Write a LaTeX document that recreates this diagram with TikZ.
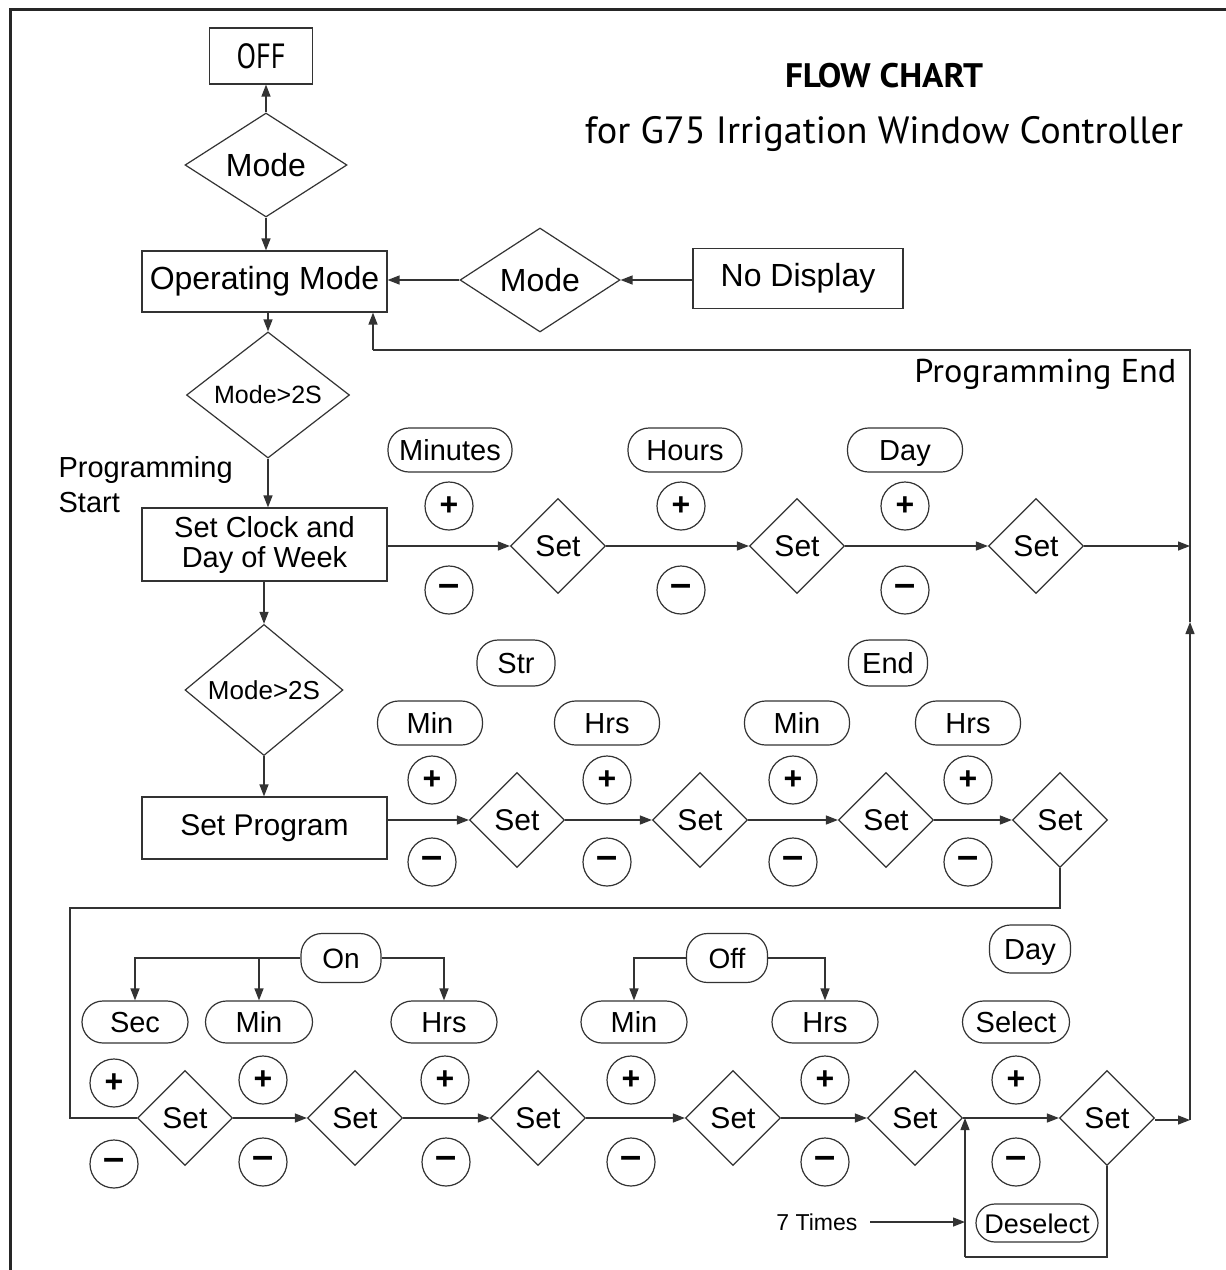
\documentclass[tikz,border=0pt]{standalone}
\usepackage{fontspec}
\setmainfont{Liberation Sans}
\newfontfamily\dinfont{PT Sans}
\usetikzlibrary{shapes.geometric,arrows.meta}
\newcommand{\dinbox}[2]{\resizebox{#1}{\height}{\dinfont #2}}
\newcommand{\fs}[1]{\fontsize{#1}{#1}\selectfont}
\begin{document}
\begin{tikzpicture}[x=1pt,y=-1pt,
  line width=1.2pt, draw=black!80,
  box/.style={draw, rectangle, inner sep=0pt},
  dia/.style={draw, diamond, aspect=1, inner sep=0pt, minimum width=95pt, minimum height=95pt, font=\fs{30}},
  pill/.style={draw, rectangle, rounded corners=21pt, minimum height=44pt, inner sep=0pt, font=\fs{29}, text height=21pt, text depth=0pt},
  plus/.style={draw, circle, minimum size=48pt, inner sep=0pt, font=\bfseries\fs{32}},
  minus/.style={draw, circle, minimum size=48pt, inner sep=0pt, font=\bfseries\fs{38}},
  conn/.style={line width=1.3pt, draw=black!80},
  arr/.style={conn, -{Triangle[length=12pt,width=9pt]}},
]
\clip (0,0) rectangle (1226,1270);
\fill[white] (0,0) rectangle (1226,1270);
\draw[line width=3pt, draw=black!85] (10,1280) -- (10,9) -- (1240,9);

% titles
\node[anchor=base, inner sep=0] (title) at (884,87) {\resizebox{198pt}{\height}{\dinfont\bfseries\fs{34}FLOW CHART}};
\node[anchor=base, inner sep=0] (sub) at (884,143) {\dinbox{598pt}{\fs{38}for G75 Irrigation Window Controller}};
\node[anchor=base east, inner sep=0] (pe) at (1177,382) {\dinbox{262pt}{\fs{33}Programming End}};

% top column
\node[box, minimum width=103pt, minimum height=56pt] (off) at (261,56) {\dinbox{49pt}{\fs{35}OFF}};
\node[dia, minimum width=162pt, minimum height=104pt, font=\fs{32}] (mode1) at (266,165) {Mode};
\node[box, minimum width=245pt, minimum height=61pt, font=\fs{32}] (opm) at (264.5,281.5) {Operating Mode};
\node[dia, minimum width=160pt, minimum height=104pt, font=\fs{32}] (mode2) at (540,280) {Mode};
\node[box, minimum width=210pt, minimum height=60pt, font=\fs{32}] (nod) at (798,278.5) {No Display};
\node[dia, minimum width=163pt, minimum height=104pt, font=\fs{25}] (m2sa) at (268,395) {Mode>2S};
\node[anchor=west, align=left, inner sep=0pt, font=\fontsize{29}{35}\selectfont] (ps) at (58,485) {Programming\\Start};
\node[box, minimum width=245pt, minimum height=73pt, align=center, font=\fontsize{29}{30}\selectfont] (sc) at (264.5,544.5) {Set Clock and\\Day of Week};
\node[dia, minimum width=158pt, minimum height=107pt, font=\fs{26}] (m2sb) at (264,690) {Mode>2S};
\node[box, minimum width=245pt, minimum height=62pt, font=\fs{30}] (sp) at (264.5,828) {Set Program};

% row 1
\node[dia] (s1) at (558,546) {Set};
\node[dia] (s2) at (797,546) {Set};
\node[dia] (s3) at (1036,546) {Set};
\node[pill, minimum width=124pt] (pminutes) at (450,450) {Minutes};
\node[pill, minimum width=114pt] (phours) at (685,450) {Hours};
\node[pill, minimum width=115pt] (pday) at (905,450) {Day};
\node[plus] (a1) at (449,506) {+};
\node[plus] (a2) at (681,506) {+};
\node[plus] (a3) at (905,506) {+};
\node[minus] (b1) at (449,590) {\raisebox{-5pt}{–}};
\node[minus] (b2) at (681,590) {\raisebox{-5pt}{–}};
\node[minus] (b3) at (905,590) {\raisebox{-5pt}{–}};

% row 2
\node[dia] (s4) at (517,820) {Set};
\node[dia] (s5) at (700,820) {Set};
\node[dia] (s6) at (886,820) {Set};
\node[dia] (s7) at (1060,820) {Set};
\node[pill, minimum width=78pt, minimum height=46pt] (pstr) at (516,663) {Str};
\node[pill, minimum width=79pt, minimum height=46pt] (pend) at (888,663) {End};
\node[pill, minimum width=105pt] (pmina) at (430,723) {Min};
\node[pill, minimum width=105pt] (phrsa) at (607,723) {Hrs};
\node[pill, minimum width=105pt] (pminb) at (797,723) {Min};
\node[pill, minimum width=105pt] (phrsb) at (968,723) {Hrs};
\node[plus] (a4) at (432,780) {+};
\node[plus] (a5) at (607,780) {+};
\node[plus] (a6) at (793,780) {+};
\node[plus] (a7) at (968,780) {+};
\node[minus] (b4) at (432,862) {\raisebox{-5pt}{–}};
\node[minus] (b5) at (607,862) {\raisebox{-5pt}{–}};
\node[minus] (b6) at (793,862) {\raisebox{-5pt}{–}};
\node[minus] (b7) at (968,862) {\raisebox{-5pt}{–}};

% row 3
\node[dia] (s8) at (185,1118) {Set};
\node[dia] (s9) at (355,1118) {Set};
\node[dia] (s10) at (538,1118) {Set};
\node[dia] (s11) at (733,1118) {Set};
\node[dia] (s12) at (915,1118) {Set};
\node[dia] (s13) at (1107,1118) {Set};
\node[pill, minimum width=80pt, minimum height=49pt, font=\fs{28}] (pon) at (341,958) {On};
\node[pill, minimum width=81pt, minimum height=49pt, font=\fs{28}] (poff) at (727,958) {Off};
\node[pill, minimum width=106pt, minimum height=42pt] (psec) at (135,1022) {Sec};
\node[pill, minimum width=107pt, minimum height=42pt] (pminc) at (259,1022) {Min};
\node[pill, minimum width=106pt, minimum height=42pt] (phrsc) at (444,1022) {Hrs};
\node[pill, minimum width=106pt, minimum height=42pt] (pmind) at (634,1022) {Min};
\node[pill, minimum width=106pt, minimum height=42pt] (phrsd) at (825,1022) {Hrs};
\node[pill, minimum width=81pt, minimum height=48pt] (pdayb) at (1030,949) {Day};
\node[pill, minimum width=107pt, minimum height=42pt] (psel) at (1016,1022) {Select};
\node[pill, minimum width=122pt, minimum height=38pt, rounded corners=19pt, font=\fs{27}, text height=20pt] (pdes) at (1037,1223) {Deselect};
\node[plus] (a8) at (114,1083) {+};
\node[plus] (a9) at (263,1080) {+};
\node[plus] (a10) at (445,1080) {+};
\node[plus] (a11) at (631,1080) {+};
\node[plus] (a12) at (825,1080) {+};
\node[plus] (a13) at (1016,1080) {+};
\node[minus] (b8) at (114,1164) {\raisebox{-5pt}{–}};
\node[minus] (b9) at (263,1162) {\raisebox{-5pt}{–}};
\node[minus] (b10) at (446,1162) {\raisebox{-5pt}{–}};
\node[minus] (b11) at (631,1162) {\raisebox{-5pt}{–}};
\node[minus] (b12) at (825,1162) {\raisebox{-5pt}{–}};
\node[minus] (b13) at (1016,1162) {\raisebox{-5pt}{–}};
\node[anchor=east, inner sep=0pt, font=\fs{23}] (t7) at (858,1222) {7 Times};

% coordinates
\coordinate (rt) at (1190,350);
\coordinate (rm) at (1190,622);
\coordinate (rb) at (1190,1120);
\coordinate (ob) at (373,350);
\coordinate (cr) at (1060,908);
\coordinate (cl) at (70,908);
\coordinate (lp) at (965,1257);

% connectors top
\draw[arr] (mode1.north) -- (off.south -| mode1.north);
\draw[arr] (mode1.south) -- (opm.north -| mode1.south);
\draw[arr] (nod.west |- mode2.east) -- (mode2.east);
\draw[arr] (mode2.west) -- (mode2.west -| opm.east);
\draw[arr] (opm.south -| m2sa.north) -- (m2sa.north);
\draw[arr] (m2sa.south) -- (m2sa.south |- sc.north);
\draw[arr] (sc.south -| m2sb.north) -- (m2sb.north);
\draw[arr] (m2sb.south) -- (m2sb.south |- sp.north);

% row 1
\draw[arr] (sc.east |- s1.west) -- (s1.west);
\draw[arr] (s1.east) -- (s2.west);
\draw[arr] (s2.east) -- (s3.west);
\draw[arr] (s3.east) -- (s3.east -| rt);

% return line
\draw[arr] (rb) -- (rm);
\draw[conn] (rm) -- (rt) -- (ob);
\draw[arr] (ob) -- (ob |- opm.south);

% row 2
\draw[arr] (sp.east |- s4.west) -- (s4.west);
\draw[arr] (s4.east) -- (s5.west);
\draw[arr] (s5.east) -- (s6.west);
\draw[arr] (s6.east) -- (s7.west);
\draw[conn] (s7.south) -- (cr) -- (cl) |- (s8.west);

% row 3
\draw[arr] (pon.west) -| (psec.north);
\draw[arr] (pminc.north |- pon.west) -- (pminc.north);
\draw[arr] (pon.east) -| (phrsc.north);
\draw[arr] (poff.west) -| (pmind.north);
\draw[arr] (poff.east) -| (phrsd.north);
\draw[arr] (s8.east) -- (s9.west);
\draw[arr] (s9.east) -- (s10.west);
\draw[arr] (s10.east) -- (s11.west);
\draw[arr] (s11.east) -- (s12.west);
\draw[arr] (s12.east) -- (s13.west);
\draw[arr] (s13.east |- rb) -- (rb);
\draw[conn] (s13.south) |- (lp);
\draw[arr] (lp) -- (lp |- s12.east);
\draw[arr] ([xshift=12pt]t7.east) -- (lp |- t7.east);
\end{tikzpicture}
\end{document}
